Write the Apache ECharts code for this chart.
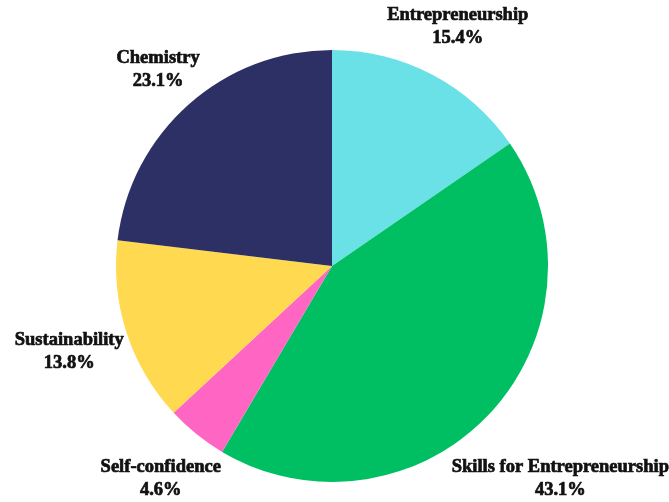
<!DOCTYPE html>
<html>
<head>
<meta charset="utf-8">
<script src="https://cdn.jsdelivr.net/npm/echarts@6/dist/echarts.min.js"></script>
<style>html,body{margin:0;padding:0;background:#fff}#c{width:669px;height:502px}</style>
</head>
<body>
<div id="c"></div>
<script>
var categories = ['Entrepreneurship', 'Skills for Entrepreneurship', 'Self-confidence', 'Sustainability', 'Chemistry'];
var values = [15.4, 43.1, 4.6, 13.8, 23.1];
var colors = ['#6AE1E6', '#00BF63', '#FF66C4', '#FFD94F', '#2D3064'];

var CX = 332, CY = 266, R = 216;
var total = values.reduce(function (a, b) { return a + b; }, 0);
var midAngles = [];
var acc = 0;
values.forEach(function (v) { midAngles.push((acc + v / 2) / total * 2 * Math.PI); acc += v; });

var chart = echarts.init(document.getElementById('c'));
chart.setOption({
  animation: false,
  series: [{
    type: 'pie',
    center: [CX, CY],
    radius: [0, R],
    startAngle: 90,
    clockwise: true,
    data: categories.map(function (c, i) {
      return { name: c, value: values[i], itemStyle: { color: colors[i] } };
    }),
    label: {
      show: true,
      position: 'outside',
      overflow: 'none',
      alignTo: 'none',
      formatter: function (p) { return p.name + '\n' + p.value.toFixed(1) + '%'; },
      fontFamily: 'Liberation Serif',
      fontWeight: 'bold',
      fontSize: 18.5,
      lineHeight: 23,
      color: '#111',
      textBorderColor: '#111',
      textBorderWidth: 0.7,
      align: 'center'
    },
    labelLine: { show: false },
    labelLayout: function (params) {
      var a = midAngles[params.dataIndex];
      var s = Math.sin(a), c = Math.cos(a);
      var w = params.labelRect.width, h = params.labelRect.height;
      var d = R + 1 + Math.abs(s) * w / 2 + Math.abs(c) * h / 2;
      return { x: CX + d * s, y: CY - d * c, align: 'center', verticalAlign: 'middle' };
    }
  }]
});
</script>
</body>
</html>
